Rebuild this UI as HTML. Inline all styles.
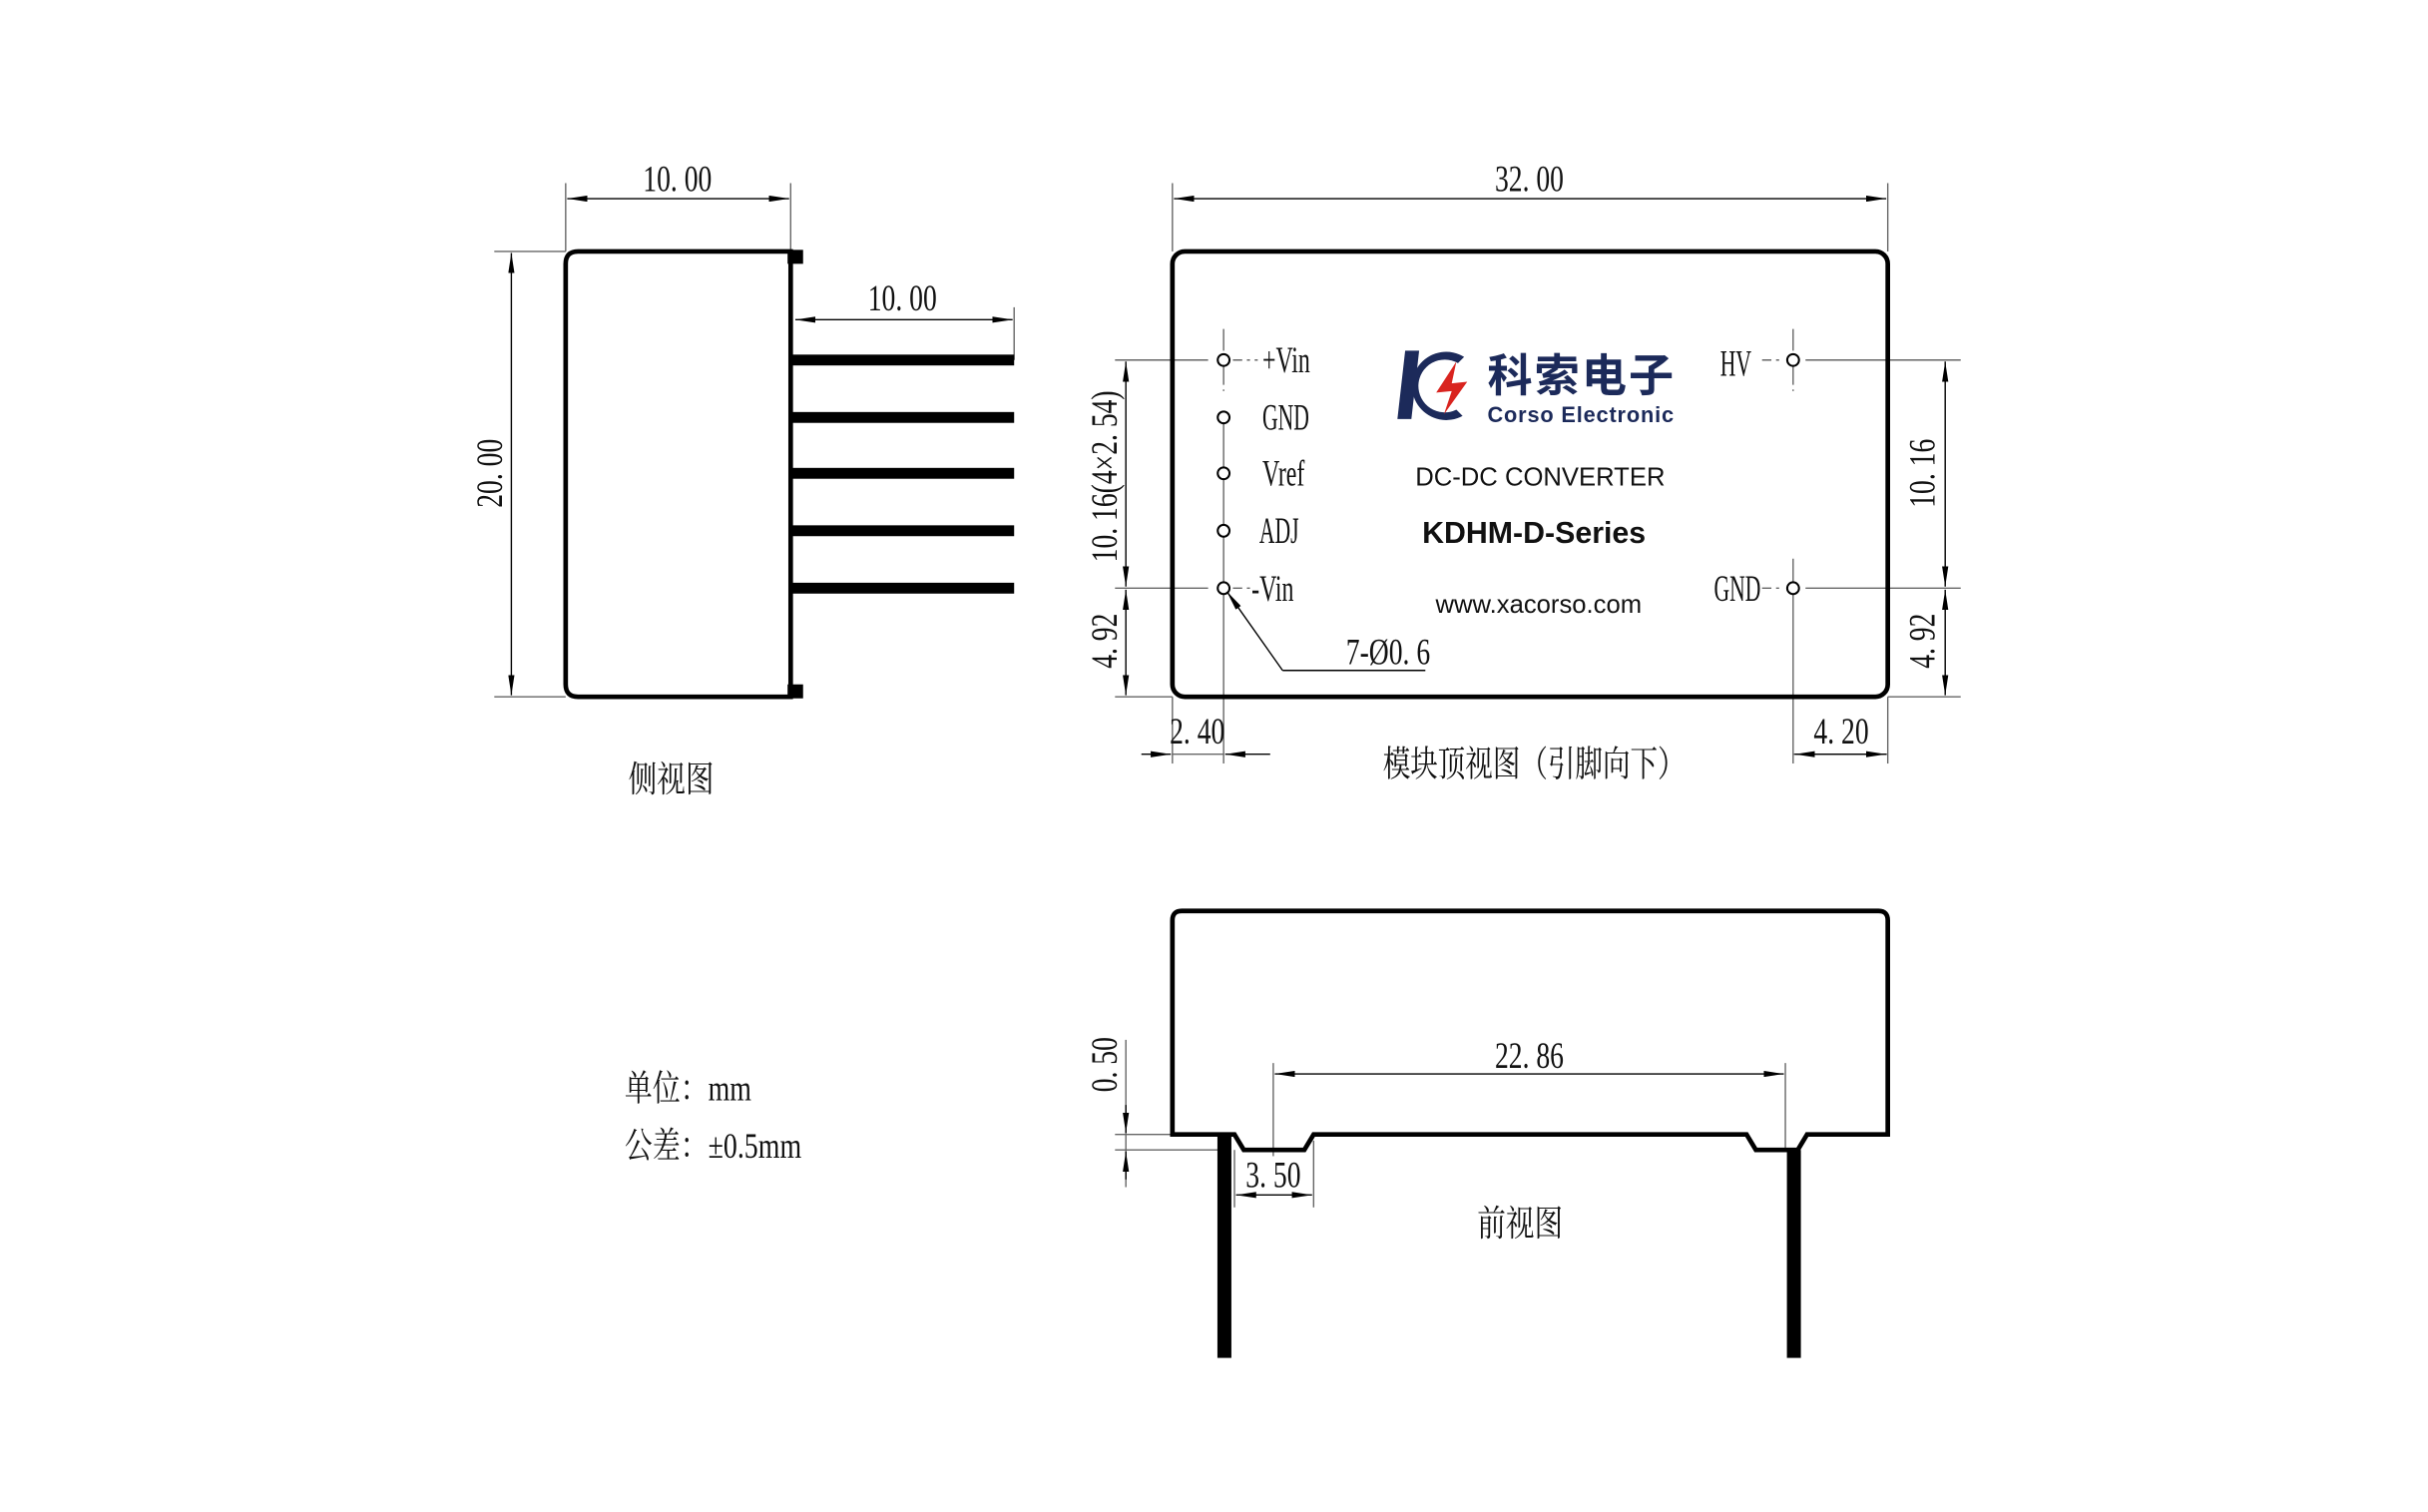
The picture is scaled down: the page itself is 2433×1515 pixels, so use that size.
<!DOCTYPE html>
<html><head><meta charset="utf-8"><style>
html,body{margin:0;padding:0;background:#fff;}
svg{display:block;}
.d{font-family:"Liberation Serif","Noto Serif CJK SC",serif;font-size:24px;fill:#111;}
.c{font-family:"Liberation Serif","Noto Serif CJK SC",serif;font-size:23px;fill:#111;}
.s{font-family:"Liberation Sans",Arial,sans-serif;fill:#111;}
</style></head><body>
<svg width="2433" height="1515" viewBox="0 0 1564.6 974.3" xmlns="http://www.w3.org/2000/svg">
<defs>
<marker id="a" viewBox="0 0 13 4" refX="13" refY="2" markerWidth="13" markerHeight="4" markerUnits="userSpaceOnUse" orient="auto-start-reverse"><path d="M0,0 L13,2 L0,4z" fill="#000"/></marker>
</defs>
<rect width="1564.6" height="974.3" fill="#fff"/>
<g transform="translate(-1.5,0)">
<g stroke="#666" stroke-width="0.9" fill="none">
<line x1="366" y1="118" x2="366" y2="162"/><line x1="511" y1="118" x2="511" y2="162"/>
<line x1="367" y1="128" x2="510" y2="128" stroke="#000" marker-start="url(#a)" marker-end="url(#a)"/>
<line x1="655" y1="198" x2="655" y2="232"/>
<line x1="514" y1="206" x2="654" y2="206" stroke="#000" marker-start="url(#a)" marker-end="url(#a)"/>
<line x1="320" y1="162" x2="366" y2="162"/><line x1="320" y1="449" x2="366" y2="449"/>
<line x1="331" y1="163" x2="331" y2="448" stroke="#000" marker-start="url(#a)" marker-end="url(#a)"/>
<line x1="757" y1="118" x2="757" y2="162"/><line x1="1218" y1="118" x2="1218" y2="162"/>
<line x1="758" y1="128" x2="1217" y2="128" stroke="#000" marker-start="url(#a)" marker-end="url(#a)"/>
<line x1="720" y1="232" x2="780" y2="232"/><line x1="720" y1="379" x2="780" y2="379"/><line x1="720" y1="449" x2="757" y2="449"/>
<line x1="727" y1="233" x2="727" y2="378" stroke="#000" marker-start="url(#a)" marker-end="url(#a)"/>
<line x1="727" y1="380" x2="727" y2="448" stroke="#000" marker-start="url(#a)" marker-end="url(#a)"/>
<line x1="1165" y1="232" x2="1265" y2="232"/><line x1="1165" y1="379" x2="1265" y2="379"/><line x1="1218" y1="449" x2="1265" y2="449"/>
<line x1="1255" y1="233" x2="1255" y2="378" stroke="#000" marker-start="url(#a)" marker-end="url(#a)"/>
<line x1="1255" y1="380" x2="1255" y2="448" stroke="#000" marker-start="url(#a)" marker-end="url(#a)"/>
<line x1="790" y1="212" x2="790" y2="252" stroke-dasharray="14,3,2,3"/>
<line x1="790" y1="268" x2="790" y2="492"/>
<line x1="757" y1="449" x2="757" y2="492"/>
<line x1="796" y1="232" x2="812" y2="232" stroke-dasharray="6,3,2,3"/>
<line x1="796" y1="379" x2="808" y2="379" stroke-dasharray="6,3,2,3"/>
<line x1="1157" y1="212" x2="1157" y2="252" stroke-dasharray="14,3,2,3"/>
<line x1="1157" y1="360" x2="1157" y2="492"/>
<line x1="1218" y1="449" x2="1218" y2="492"/>
<line x1="1137" y1="232" x2="1151" y2="232" stroke-dasharray="6,3,2,3"/>
<line x1="1137" y1="379" x2="1151" y2="379" stroke-dasharray="6,3,2,3"/>
<line x1="737" y1="486" x2="756" y2="486" stroke="#000" marker-end="url(#a)"/>
<line x1="820" y1="486" x2="791" y2="486" stroke="#000" marker-end="url(#a)"/>
<line x1="757" y1="486" x2="790" y2="486"/>
<line x1="1157" y1="486" x2="1218" y2="486"/>
<line x1="1158" y1="486" x2="1188" y2="486" stroke="#000" marker-start="url(#a)"/>
<line x1="1188" y1="486" x2="1217" y2="486" stroke="#000" marker-end="url(#a)"/>
<polyline points="828,432 920,432" stroke="#000"/>
<line x1="828" y1="432" x2="792" y2="381" stroke="#000" marker-end="url(#a)"/>
<line x1="822" y1="685" x2="822" y2="745"/><line x1="1152" y1="685" x2="1152" y2="741"/>
<line x1="823" y1="692" x2="1151" y2="692" stroke="#000" marker-start="url(#a)" marker-end="url(#a)"/>
<line x1="720" y1="731" x2="757" y2="731"/><line x1="720" y1="741" x2="790" y2="741"/>
<line x1="727" y1="670" x2="727" y2="765"/>
<line x1="727" y1="712" x2="727" y2="730" stroke="#000" marker-end="url(#a)"/>
<line x1="727" y1="760" x2="727" y2="742" stroke="#000" marker-end="url(#a)"/>
<line x1="797" y1="741" x2="797" y2="778"/><line x1="848" y1="735" x2="848" y2="778"/>
<line x1="798" y1="770" x2="847" y2="770" stroke="#000" marker-start="url(#a)" marker-end="url(#a)"/>
</g>
<path d="M511,162 L374,162 Q366,162 366,170 L366,441 Q366,449 374,449 L511,449 Z" fill="none" stroke="#000" stroke-width="3"/>
<rect x="509" y="161" width="10" height="9" fill="#000"/>
<rect x="509" y="441" width="10" height="9" fill="#000"/>
<g fill="#000">
<rect x="511" y="228.5" width="144" height="7"/>
<rect x="511" y="265.5" width="144" height="7"/>
<rect x="511" y="301.5" width="144" height="7"/>
<rect x="511" y="338.5" width="144" height="7"/>
<rect x="511" y="375.5" width="144" height="7"/>
</g>
<rect x="757" y="162" width="461" height="287" rx="8" fill="none" stroke="#000" stroke-width="3"/>
<g fill="#fff" stroke="#000" stroke-width="1.3">
<circle cx="790" cy="232" r="3.8"/><circle cx="790" cy="269" r="3.8"/><circle cx="790" cy="305" r="3.8"/><circle cx="790" cy="342" r="3.8"/><circle cx="790" cy="379" r="3.8"/>
<circle cx="1157" cy="232" r="3.8"/><circle cx="1157" cy="379" r="3.8"/>
</g>
<path d="M907,226 L916,226 L911,270 L902,270 Z" fill="#1c2a5a"/>
<path d="M945,230 A22,22 0 1 0 944,268 L940,264 A17,17 0 1 1 941,234 Z" fill="#1c2a5a"/>
<path d="M940,233 L927,253 L937,252 L932,267 L947,246 L937,247 Z" fill="#d9241f"/>
<text x="960" y="252" style="font-family:'Liberation Sans','Noto Sans CJK SC',sans-serif;font-weight:bold;font-size:29px;fill:#1c2a5a" textLength="120">科索电子</text>
<text x="960" y="272" style="font-family:'Liberation Sans',sans-serif;font-weight:bold;font-size:14px;fill:#1c2a5a" textLength="120">Corso Electronic</text>
<text class="s" x="994" y="313" text-anchor="middle" font-size="16.5">DC-DC CONVERTER</text>
<text class="s" x="990" y="350" text-anchor="middle" font-size="19.5" font-weight="bold">KDHM-D-Series</text>
<text class="s" x="993" y="395" text-anchor="middle" font-size="16.5">www.xacorso.com</text>
<path d="M757,731 L757,593 Q757,587 763,587 L1212,587 Q1218,587 1218,593 L1218,731 L1166,731 L1160,741 L1133,741 L1127,731 L848,731 L842,741 L803,741 L797,731 Z" fill="none" stroke="#000" stroke-width="3"/>
<rect x="786" y="731" width="9" height="144" fill="#000"/>
<rect x="1153" y="741" width="9" height="134" fill="#000"/>
<g class="d">
<text transform="translate(438,123) scale(.74,1)" text-anchor="middle">10. 00</text>
<text transform="translate(583,200) scale(.74,1)" text-anchor="middle">10. 00</text>
<text transform="translate(325,305) rotate(-90) scale(.74,1)" text-anchor="middle">20. 00</text>
<text transform="translate(987,123) scale(.74,1)" text-anchor="middle">32. 00</text>
<text transform="translate(721,307) rotate(-90) scale(.74,1)" text-anchor="middle">10. 16(4×2. 54)</text>
<text transform="translate(721,413) rotate(-90) scale(.74,1)" text-anchor="middle">4. 92</text>
<text transform="translate(1248,305) rotate(-90) scale(.74,1)" text-anchor="middle">10. 16</text>
<text transform="translate(1248,413) rotate(-90) scale(.74,1)" text-anchor="middle">4. 92</text>
<text transform="translate(773,479) scale(.74,1)" text-anchor="middle">2. 40</text>
<text transform="translate(1188,479) scale(.74,1)" text-anchor="middle">4. 20</text>
<text transform="translate(896,428) scale(.74,1)" text-anchor="middle">7-Ø0. 6</text>
<text transform="translate(815,240) scale(.64,1)">+Vin</text>
<text transform="translate(815,277) scale(.58,1)">GND</text>
<text transform="translate(815,313) scale(.64,1)">Vref</text>
<text transform="translate(813,350) scale(.58,1)">ADJ</text>
<text transform="translate(808,387) scale(.64,1)">-Vin</text>
<text transform="translate(1110,242) scale(.58,1)">HV</text>
<text transform="translate(1106,387) scale(.58,1)">GND</text>
<text transform="translate(987,688) scale(.74,1)" text-anchor="middle">22. 86</text>
<text transform="translate(721,686) rotate(-90) scale(.74,1)" text-anchor="middle">0. 50</text>
<text transform="translate(822,765) scale(.74,1)" text-anchor="middle">3. 50</text>
</g>
<g class="c">
<text transform="translate(434,510) scale(.8,1)" text-anchor="middle">侧视图</text>
<text transform="translate(990,500) scale(.77,1)" text-anchor="middle">模块顶视图（引脚向下）</text>
<text transform="translate(981,796) scale(.8,1)" text-anchor="middle">前视图</text>
<text transform="translate(404,709) scale(.78,1)">单位：mm</text>
<text transform="translate(404,746) scale(.78,1)">公差：±0.5mm</text>
</g>
</g>
</svg>
</body></html>
